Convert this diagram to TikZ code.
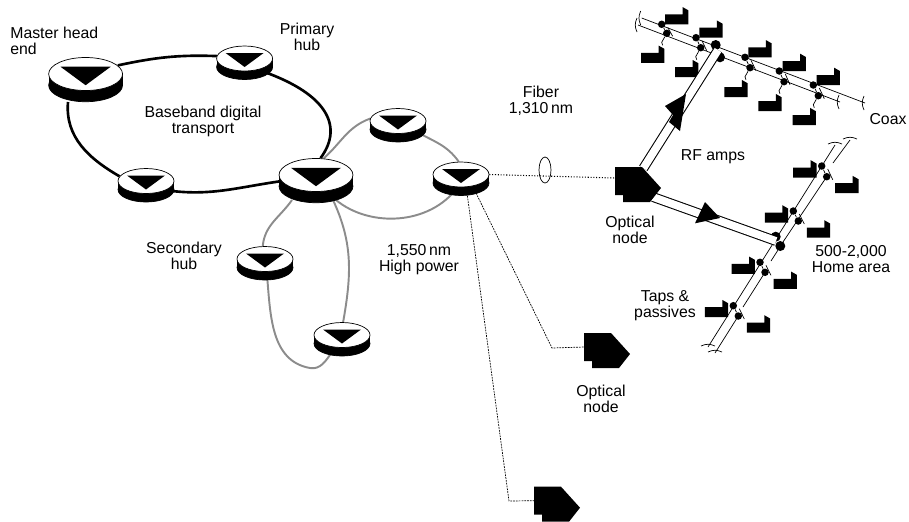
\documentclass[tikz,border=0pt]{standalone}
\usepackage{fontspec}
\setmainfont{Liberation Sans}
\usetikzlibrary{calc, shapes.geometric, backgrounds}
\tikzset{
	x=.2mm,
	y=.2mm,
	line width=.6pt,
	font=\fontsize{9}{9}\selectfont,
	label/.style={align=center, inner sep=0pt},
	hubtop/.style={ellipse, draw, fill=white, minimum width=11.2mm, minimum height=5mm, inner sep=0pt},
	hubbase/.style={ellipse, draw, fill=black, minimum width=11.2mm, minimum height=5mm, inner sep=0pt},
	ringblack/.style={line width=1.5pt},
	ringgrey/.style={line width=1.1pt, draw=black!45},
	fiber/.style={line width=.6pt, densely dotted},
	thinfiber/.style={line width=.4pt, dash pattern=on 1pt off .6pt},
	cable/.style={line width=.6pt, double, double distance=4.4pt},
	tapdot/.style={circle, fill=black, minimum size=1.5mm, inner sep=0pt},
	junction/.style={circle, fill=black, minimum size=2mm, inner sep=0pt}
}
\newcommand{\hubnode}[4]{
	\begin{scope}[shift={(#2,-#3)}, scale=#4, every node/.append style={transform shape}]
		\node[hubbase] (#1base) at (0,-8.5) {};
		\fill (-28,0) rectangle (28,-8.5);
		\node[hubtop] (#1) at (0,0) {};
		\fill (-19,5.5) -- (19,5.5) -- (0,-8.5) -- cycle;
	\end{scope}
}
\newcommand{\opticalnode}[3]{
	\coordinate (#1) at (#2,-#3);
	\fill[shift={(#1)}] (0,11) -- (27,11) -- (46,-10) -- (35,-24) -- (8,-24) -- (8,-17) -- (0,-17) -- cycle;
}
\newcommand{\tapblock}[2]{
	\fill[shift={({#1},{-(#2)})}] (0,0) -- (23.3,0) -- (23.3,14) -- (17.5,17.3) -- (17.5,10) -- (0,10) -- cycle;
}
\newcommand{\tappair}[5]{
	\node[tapdot] (#1u) at (#2,-#3) {};
	\node[tapdot] (#1l) at (#4,-#5) {};
	\draw (#1u) -- (#1l);
	\draw ($(#1u)+(6,-3)$) -- ($(#1l)+(6,-3)$);
}
\begin{document}
\begin{tikzpicture}
	\useasboundingbox (0,0) rectangle (909,-521);

	% hubs
	\hubnode{master}{85.6}{74}{1.32}
	\hubnode{primary}{244.6}{58.5}{1}
	\hubnode{lefthub}{146}{181}{1}
	\hubnode{centerhub}{316}{175}{1.32}
	\hubnode{tophub}{398}{121}{1}
	\hubnode{righthub}{461}{174.5}{1}
	\hubnode{secondary}{265}{259}{1}
	\hubnode{bottomhub}{342}{335}{1}

	\begin{pgfonlayer}{background}
		\coordinate (masterbase) at (68,-102);
		\coordinate (centerleft) at (292,-200);
		\coordinate (centerright) at (336,-200);
		\coordinate (centerlow) at (333,-200);
		\coordinate (secondlow) at (267,-275);
		\coordinate (ringsouth) at (310,-368);
		\coordinate (bottomlow) at (332,-352);
		\draw[ringblack] (master.15) to[out=12,in=178] (primary.175);
		\draw[ringblack] (primary.-40) .. controls (325,-92) and (345,-125) .. (centerhub.75);
		\draw[ringblack] (centerhub.-170) to[out=188,in=-8] (lefthub.-25);
		\draw[ringblack] (lefthub.170) to[out=150,in=-95] (masterbase);

		\draw[ringgrey] (centerhub.65) to[out=42,in=200] (tophub.175);
		\draw[ringgrey] (tophub.-30) to[out=-30,in=125] (righthub.100);
		\draw[ringgrey] (righthub.-105) .. controls (430,-225) and (370,-228) .. (centerright);
		\draw[ringgrey] (centerleft) to[out=-125,in=85] (secondary.100);
		\draw[ringgrey] (secondlow) to[out=-85,in=170] (ringsouth) to[out=-10,in=-125] (bottomlow);
		\draw[ringgrey] (bottomhub.85) to[out=80,in=-65] (centerlow);
	\end{pgfonlayer}

	% optical nodes
	\opticalnode{opticalb}{584}{344}
	\opticalnode{opticalc}{534}{497.7}

	\node[ellipse, draw, line width=.4pt, minimum width=2.4mm, minimum height=5.2mm, inner sep=0pt] (fiberloop) at (545,-170) {};
	\coordinate (hubfoot) at (476,-193);
	\coordinate (hubfootb) at (467,-193);
	\coordinate (bendb) at (552,-348);
	\coordinate (bendc) at (509,-501);
	\draw[thinfiber] (hubfoot) -- (bendb) -- ($(opticalb)+(0,-3)$);
	\draw[thinfiber] (hubfootb) -- (bendc) -- ($(opticalc)+(0,-3)$);

	% coax rails
	\coordinate (coaxa) at (641.7,-18);
	\coordinate (coaxb) at (865,-103);
	\coordinate (coaxc) at (638,-25);
	\coordinate (coaxd) at (840,-102);
	\draw (coaxa) -- (coaxb);
	\draw (coaxc) -- (coaxd);
	\foreach \endp in {coaxa, coaxb, coaxc, coaxd}
		\draw[line width=.4pt] ($(\endp)+(-1,7)$) to[bend right=25] ($(\endp)+(-1,-7)$);

	\foreach \n/\ux/\uy/\lx/\ly in {a/661.7/24.3/666.7/33.3, b/696/37.7/700.7/47.7, c/745/57.3/750/67.7, d/779.3/71/784/81.7, e/813.3/85/818.3/95.7}{
		\tappair{\n}{\ux}{\uy}{\lx}{\ly}
		\tapblock{\ux+3.3}{\uy}
		\tapblock{\lx-25.7}{\ly+29.5}
		\draw (\n l) -- ++(-5,-9) -- ++(1,-3);
	}

	% home rails
	\coordinate (homea) at (835,-145);
	\coordinate (homeb) at (708,-347);
	\coordinate (homec) at (850,-140);
	\coordinate (homed) at (715,-353);
	\draw (homea) -- (homeb);
	\draw (homec) -- (833,-163);
	\draw (826.7,-176.7) -- (780.3,-246);
	\draw (778,-250) -- (771,-261);
	\draw (765,-272.3) -- (743,-307);
	\draw (738.3,-316) -- (homed);
	\foreach \endp in {homea, homeb, homec, homed}
		\draw[line width=.4pt] ($(\endp)+(-7,1)$) to[bend left=25] ($(\endp)+(7,1)$);

	\foreach \n/\ux/\uy/\lx/\ly in {f/821.7/166/826.7/176.7, g/793.3/211/798.3/221, h/760/262.3/765/272.3, i/733.3/305.7/738.3/316}{
		\tappair{\n}{\ux}{\uy}{\lx}{\ly}
		\tapblock{\ux-28.5}{\uy+11.5}
		\tapblock{\lx+8.5}{\ly+16.5}
	}

	% branches from the optical node
	\node[junction] (junctiona) at (715.7,-45) {};
	\node[junction] (junctionb) at (720,-57.3) {};
	\node[junction] (junctionc) at (775.7,-236.7) {};
	\node[junction] (junctiond) at (780.3,-246) {};
	\coordinate (branchtop) at (718,-50);
	\coordinate (branchlow) at (776,-241);
	\draw[cable] (643.3,-168.3) -- (branchtop);
	\draw[cable] (653,-197) -- (branchlow);
	\fill (686,-94) -- (665,-106) -- (673,-115) -- (669,-122) -- (680,-131) -- cycle;
	\fill (705,-202) -- (720,-218) -- (695,-223.3) -- cycle;
	\opticalnode{optical}{615}{178}
	\draw[fiber] (righthub.east) -- (optical);

	% labels
	\node[label, align=left, anchor=west] (mastertext) at (10,-41) {Master head\\end};
	\node[label] (primarytext) at (307,-37) {Primary\\hub};
	\node[label] (basebandtext) at (203,-121) {Baseband digital\\transport};
	\node[label] (secondarytext) at (184,-256) {Secondary\\hub};
	\node[label] (powertext) at (419,-260) {1,550\,nm\\High power};
	\node[label] (fibertext) at (541,-101) {Fiber\\1,310\,nm};
	\node[label] (rftext) at (713,-157) {RF amps};
	\node[label] (coaxtext) at (888,-119) {Coax};
	\node[label] (opticaltext) at (630,-230) {Optical\\node};
	\node[label] (hometext) at (851,-259) {500-2,000\\Home area};
	\node[label] (tapstext) at (665,-306) {Taps \&\\passives};
	\node[label] (opticalbtext) at (601,-399) {Optical\\node};
\end{tikzpicture}
\end{document}
